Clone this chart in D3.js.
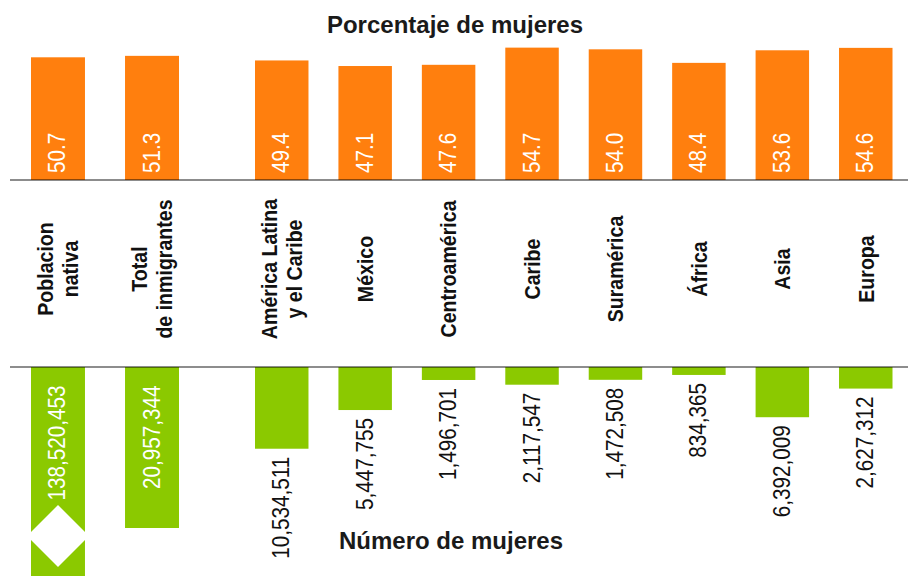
<!DOCTYPE html>
<html>
<head>
<meta charset="utf-8">
<script src="https://cdn.jsdelivr.net/npm/d3@7"></script>
<style>
  html, body { margin: 0; padding: 0; background: #fff; }
  svg { display: block; font-family: "Liberation Sans", Arial, Helvetica, sans-serif; }
</style>
</head>
<body>
<svg id="chart" width="908" height="576"></svg>
<script>
// ---- data ----
const categories = ["nativa", "total", "alc", "mexico", "centro", "caribe", "sura", "africa", "asia", "europa"];
const categoryLabels = [
  ["Poblacion", "nativa"],
  ["Total", "de inmigrantes"],
  ["América Latina", "y el Caribe"],
  ["México"],
  ["Centroamérica"],
  ["Caribe"],
  ["Suramérica"],
  ["África"],
  ["Asia"],
  ["Europa"]
];
const groupOf = [0, 0, 1, 1, 1, 1, 1, 1, 1, 1];
const pctWomen = [50.7, 51.3, 49.4, 47.1, 47.6, 54.7, 54.0, 48.4, 53.6, 54.6];
const numWomen = [138520453, 20957344, 10534511, 5447755, 1496701, 2117547, 1472508, 834365, 6392009, 2627312];
const titleTop = "Porcentaje de mujeres";
const titleBottom = "Número de mujeres";

const W = 908, H = 576;
const svg = d3.select("#chart");

// ---- scales ----
const group0 = categories.filter((c, i) => groupOf[i] === 0);
const group1 = categories.filter((c, i) => groupOf[i] === 1);
const x0 = d3.scaleBand().domain(group0).range([31, 179]).paddingInner(0.426).paddingOuter(0);
const x1 = d3.scaleBand().domain(group1).range([255, 892.5]).paddingInner(0.359).paddingOuter(0);
const xPos = i => groupOf[i] === 0 ? x0(categories[i]) : x1(categories[i]);
const bw = i => groupOf[i] === 0 ? x0.bandwidth() : x1.bandwidth();
const xMid = i => xPos(i) + bw(i) / 2;

const topBase = 180;
const yTop = d3.scaleLinear().domain([0, 60]).range([topBase, topBase - 145.2]);
const botBase = 367;
const yBot = d3.scaleLinear().domain([0, 20957344]).range([368.6, 528]);

const orange = "#ff7f0e";
const green = "#8bc900";
const idx = d3.range(categories.length);
const narrow = "scale(0.88,1)";

// ---- titles ----
svg.append("text")
  .attr("x", 455).attr("y", 33)
  .attr("text-anchor", "middle")
  .attr("font-size", 24).attr("font-weight", "bold").attr("fill", "#1a1a1a")
  .text(titleTop);

// ---- top bars ----
svg.append("g").selectAll("rect").data(idx).join("rect")
  .attr("x", i => xPos(i)).attr("width", i => bw(i))
  .attr("y", i => yTop(pctWomen[i]))
  .attr("height", i => yTop(0) - yTop(pctWomen[i]))
  .attr("fill", orange);

svg.append("g").selectAll("text").data(idx).join("text")
  .attr("transform", i => `translate(${xMid(i) + 7.5},${topBase - 7}) rotate(-90) ${narrow}`)
  .attr("text-anchor", "start")
  .attr("font-size", 23.5).attr("fill", "#fff")
  .text(i => d3.format(".1f")(pctWomen[i]));

// top axis line
svg.append("line")
  .attr("x1", 10).attr("x2", W).attr("y1", topBase).attr("y2", topBase)
  .attr("stroke", "#000").attr("stroke-opacity", 0.45).attr("stroke-width", 2);

// ---- category labels ----
const lineGap = 25;
const catG = svg.append("g");
idx.forEach(i => {
  const lines = categoryLabels[i];
  const n = lines.length;
  lines.forEach((ln, k) => {
    const off = (k - (n - 1) / 2) * lineGap;
    catG.append("text")
      .attr("transform", `translate(${xMid(i) + off + 7.8},269) rotate(-90) scale(0.87,1)`)
      .attr("text-anchor", "middle")
      .attr("font-size", 22.5).attr("font-weight", "bold").attr("fill", "#111")
      .text(ln);
  });
});

// ---- bottom bars ----
const botEnd = i => Math.min(yBot(numWomen[i]), H);
svg.append("g").selectAll("rect").data(idx).join("rect")
  .attr("x", i => xPos(i)).attr("width", i => bw(i))
  .attr("y", botBase)
  .attr("height", i => botEnd(i) - botBase)
  .attr("fill", green);

// axis break marker on truncated bar
idx.filter(i => yBot(numWomen[i]) > H).forEach(i => {
  const cx = xMid(i), cy = 536, r = 31;
  svg.append("path")
    .attr("d", `M${cx},${cy - r}L${cx + r},${cy}L${cx},${cy + r}L${cx - r},${cy}Z`)
    .attr("fill", "#fff");
});

const inside = i => botEnd(i) - botBase > 150;
svg.append("g").selectAll("text").data(idx).join("text")
  .attr("transform", i => inside(i)
    ? `translate(${xMid(i) + 7.5},${botBase + 18.5}) rotate(-90) ${narrow}`
    : `translate(${xMid(i) + 7.5},${botEnd(i) + 8}) rotate(-90) ${narrow}`)
  .attr("text-anchor", "end")
  .attr("font-size", 23.5)
  .attr("fill", i => inside(i) ? "#fff" : "#111")
  .text(i => d3.format(",")(numWomen[i]));

// bottom axis line
svg.append("line")
  .attr("x1", 10).attr("x2", W).attr("y1", botBase).attr("y2", botBase)
  .attr("stroke", "#000").attr("stroke-opacity", 0.6).attr("stroke-width", 1.5);

svg.append("text")
  .attr("x", 451).attr("y", 549)
  .attr("text-anchor", "middle")
  .attr("font-size", 24).attr("font-weight", "bold").attr("fill", "#1a1a1a")
  .text(titleBottom);
</script>
</body>
</html>
